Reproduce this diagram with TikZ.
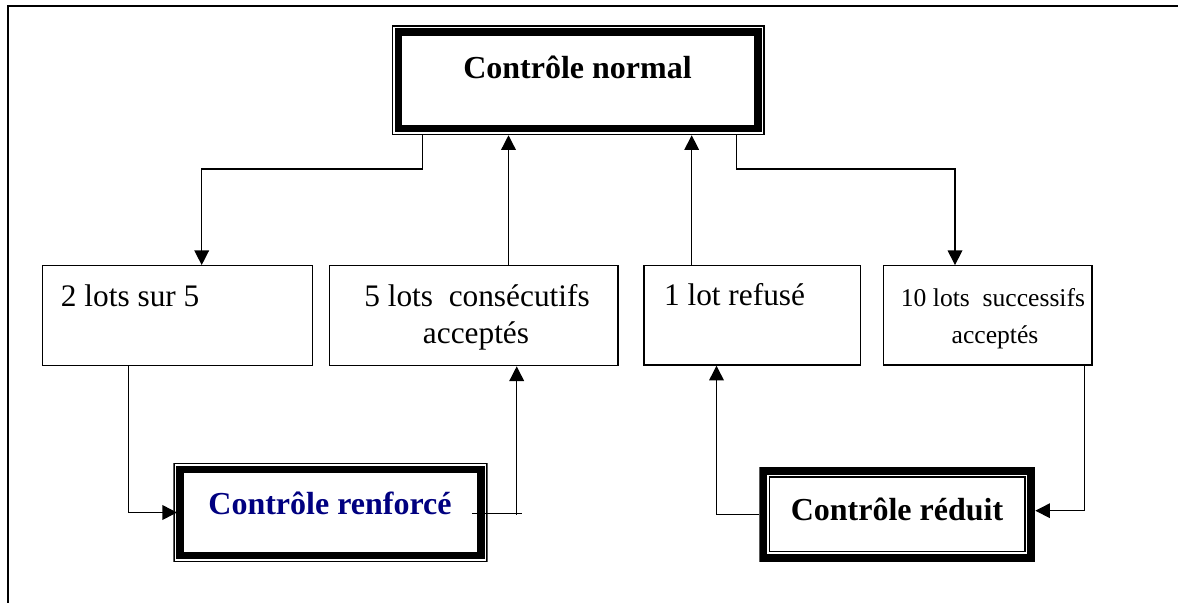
\documentclass[tikz,border=0pt]{standalone}
\usepackage{fontspec}
\setmainfont{Liberation Serif}
\usetikzlibrary{arrows.meta,calc}
\definecolor{navytext}{RGB}{0,0,128}
% one rectangle inside a node: inset and line width, both in px
\newcommand\ringrect[2]{\draw[line width=#2*0.75pt]
  ([shift={(#1*0.75pt,#1*0.75pt)}]path picture bounding box.south west) rectangle
  ([shift={(-#1*0.75pt,-#1*0.75pt)}]path picture bounding box.north east);}
\tikzset{
  plainbox/.style={draw, line width=1pt, inner sep=0pt},
  thinthick/.style={inner sep=0pt, path picture={\ringrect{0.75}{1.5}\ringrect{6.75}{7.5}}},
  thickthin/.style={inner sep=0pt, path picture={\ringrect{4}{8}\ringrect{10.25}{1.5}}},
  conn/.style={line width=1pt},
  connarrow/.style={conn, -{Triangle[length=11pt,width=11pt]}},
  lottxt/.style={font=\fontsize{23.5}{28}\selectfont, inner sep=0pt, anchor=base},
  smalltxt/.style={font=\fontsize{19.2}{23}\selectfont, inner sep=0pt, anchor=base},
  headtxt/.style={font=\fontsize{24}{28}\selectfont\bfseries, inner sep=0pt, anchor=base},
}
\begin{document}
\begin{tikzpicture}[x=0.75pt,y=-0.75pt]
\useasboundingbox (0,0) rectangle (1178,603);
\fill[white] (0,0) rectangle (1178,603);

% page frame (left and top rules)
\coordinate (fb) at (8,603);
\coordinate (fc) at (8,6);
\coordinate (fr) at (1178,6);
\draw[line width=1.5pt] (fb) -- (fc) -- (fr);

% boxes
\node[thinthick, minimum width=373.3*0.75pt, minimum height=110*0.75pt] (normal) at (578.3,80) {};
\node[plainbox, minimum width=270.4*0.75pt, minimum height=100*0.75pt] (lot2) at (177.5,315.7) {};
\node[plainbox, minimum width=288.7*0.75pt, minimum height=100*0.75pt] (lot5) at (473.7,315.7) {};
\node[plainbox, minimum width=216.7*0.75pt, minimum height=99.3*0.75pt] (lot1) at (752.3,315.4) {};
\node[plainbox, minimum width=208.7*0.75pt, minimum height=99.3*0.75pt] (lot10) at (987.7,315.4) {};
\node[thinthick, minimum width=314.4*0.75pt, minimum height=99.6*0.75pt] (renf) at (330.5,512.5) {};
\node[thickthin, minimum width=275.7*0.75pt, minimum height=95*0.75pt] (red) at (897.2,514.2) {};

% texts
\node[headtxt] (tnormal) at (577.5,78) {Contrôle normal};
\node[lottxt, anchor=base west] (t2) at (60.7,306.7) {2 lots sur 5};
\node[lottxt] (t5a) at (477,306.7) {5 lots\ \ consécutifs};
\node[lottxt] (t5b) at (476,343.7) {acceptés};
\node[lottxt, anchor=base west] (t1) at (663.8,305) {1 lot refusé};
\node[smalltxt] (t10a) at (993,306.7) {10 lots\ \ successifs};
\node[smalltxt] (t10b) at (995,343.7) {acceptés};
\node[headtxt, text=navytext] (trenf) at (330,514) {Contrôle renforcé};
\node[headtxt] (tred) at (897,520) {Contrôle réduit};

% connectors between normal control and the lot boxes
\coordinate (ka) at (422.7,169);
\coordinate (kb) at (201.7,169);
\draw[connarrow] (normal.south -| ka) -- (ka) -- (kb) -- (lot2.north -| kb);
\coordinate (kc) at (508.5,0);
\draw[connarrow] (lot5.north -| kc) -- (normal.south -| kc);
\coordinate (kd) at (691.7,0);
\draw[connarrow] (lot1.north -| kd) -- (normal.south -| kd);
\coordinate (ke) at (736.7,169);
\coordinate (kf) at (955,169);
\draw[connarrow] (normal.south -| ke) -- (ke) -- (kf) -- (lot10.north -| kf);

% connectors around tightened control
\coordinate (kg) at (128.3,0);
\draw[connarrow] (lot2.south -| kg) |- ([xshift=3pt]renf.west);
\coordinate (kh) at (516.7,0);
\draw[conn] ($(renf.east)+(-16,0.8)$) -- ($(renf.east)+(34,0.8)$);
\draw[connarrow] ($(renf.east -| kh)+(0,2)$) -- (lot5.south -| kh);

% connectors around reduced control
\coordinate (ki) at (716.5,0);
\draw[connarrow] (red.west) -| (lot1.south -| ki);
\coordinate (kj) at (1084.7,510.7);
\draw[connarrow] (lot10.south -| kj) -- (kj) -- (red.east |- kj);
\end{tikzpicture}
\end{document}
